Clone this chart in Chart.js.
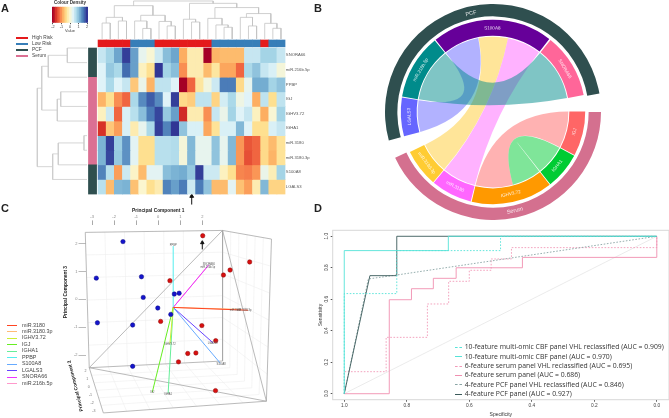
<!DOCTYPE html>
<html>
<head>
<meta charset="utf-8">
<script src="https://cdn.jsdelivr.net/npm/chart.js@4"></script>
<style>
body { margin: 0; background: #fff; font-family: "Liberation Sans", sans-serif; }
canvas { position: absolute; }
.t { position: absolute; white-space: nowrap; color: #333; }
.let { font-weight: bold; font-size: 11px; color: #222; }
.sw { position: absolute; }
</style>
</head>
<body>
<div style="position:relative;width:669px;height:418px;overflow:hidden" id="page">
<canvas id="heat" width="340" height="205" style="left:0;top:0;width:340px;height:205px"></canvas>
<canvas id="cbar" width="56" height="33" style="left:42px;top:0;width:56px;height:33px"></canvas>
<canvas id="chord" width="216" height="216" style="left:385px;top:3.6px;width:216px;height:216px"></canvas>
<canvas id="pca" width="275" height="218" style="left:0;top:200px;width:275px;height:218px"></canvas>
<canvas id="roc" width="351" height="193" style="left:318px;top:225px;width:351px;height:193px"></canvas>
</div>
<script>
// panel A data
var genes = ['SNORA66', 'miR.216b.5p', 'PPBP', 'IGJ', 'IGHV3.72', 'IGHA1', 'miR.3180', 'miR.3180.3p', 'S100A8', 'LGALS3'];
var snora66 = [.6, .85, 1.25, 1.95, 1.3, .3, .05, .55, 1.05, 1.25, -.8, -.2, -.2, -2, -.75, -.7, -.7, -.7, .6, .6, .85, .85, .6];
var mir216 = [.4, .95, .8, 1.65, 1.3, -.1, -.4, 2, .85, 1.05, -1, -.2, -.2, -.7, -.3, -.85, -.85, -1.25, .8, 1, .6, .45, .1];
var ppbp = [.4, .8, .4, .6, -.6, .25, -.75, .65, .65, .4, -2, -1.25, -.3, .15, .55, 1.55, 1.55, -.45, .3, 1.2, 1.2, .85, 1];
var igj = [-.75, -.4, -1, -1.25, .8, 1.45, 1.75, 1.45, .4, 1.95, -.45, -.55, .65, .65, -.5, .5, .8, .2, .4, -.8, .65, -.4, .65];
var ighv = [-.1, .55, -1.25, .45, .7, 1.05, 1.55, 1.9, .95, 1.3, -1.65, -.2, -.2, -1, .6, .25, .85, .4, .6, -.1, -.8, .05, .85];
var igha1 = [-1.6, -.6, -.9, .45, -.2, .3, .8, 1.95, 1.5, 2, 1, .45, .45, -.85, -.35, .45, .45, 1.1, .4, -.4, -.4, .45, .6];
var mir3180 = [1.15, 1.95, .9, 1.4, .35, -.4, -.4, .7, .7, .75, .1, 1.1, .3, .3, 1, .3, 1.1, -.95, -1.35, -1.25, -.45, -.7, -.35];
var mir3180p = [1.15, 1.9, .95, 1.4, .35, -.4, -.4, .7, .7, .75, .1, 1.1, .3, .3, 1, .3, 1.1, -.95, -1.4, -1.25, -.45, -.75, -.35];
var s100a8 = [1.5, .7, -.9, .55, -.05, -.7, .35, .35, 1.05, 1.15, 1.2, .95, 1.95, .55, .55, -.1, -.4, -1.05, -1.1, -.95, .25, -.15, .85];
var lgals3 = [.7, -.7, 1.1, 1.15, -.65, 0, -.4, -.2, 1.5, 1.3, 1.55, .55, 1.55, 1, -.7, -.7, .35, -.65, -.9, -.2, 1.1, -.5, -.5];
var heatRows = [snora66, mir216, ppbp, igj, ighv, igha1, mir3180, mir3180p, s100a8, lgals3];
var riskGroups = ['H', 'H', 'H', 'H', 'L', 'L', 'L', 'H', 'H', 'H', 'H', 'H', 'H', 'H', 'L', 'L', 'L', 'L', 'L', 'L', 'H', 'L', 'L'];
var sourceStart = [0, 2, 8];
var sourceEnd = [2, 8, 10];
var sourceName = ['PCF', 'Serum', 'PCF'];
// linkage tables: left, right, height (ids past the leaf count are earlier merges)
var colLinks = [[0, 1, -1.71], [2, 3, -1.85], [23, 24, -2.1], [5, 6, -1.34], [4, 26, -1.85], [8, 9, -1.51], [7, 28, -1.82], [27, 29, -2.24], [25, 30, -2.9], [11, 12, -1.78], [10, 32, -1.97], [15, 16, -1.42], [14, 34, -1.58], [13, 35, -2.03], [18, 19, -1.51], [17, 37, -2.1], [21, 22, -1.35], [20, 39, -1.69], [38, 40, -2.36], [36, 41, -2.77], [33, 42, -3.06], [31, 43, -3.22]];
var rowLinks = [[0, 1, -4.28], [10, 2, -6.62], [3, 4, -5.09], [12, 5, -5.51], [11, 13, -7.43], [6, 7, -2.23], [15, 8, -5.39], [16, 9, -6.08], [14, 17, -7.97]];
var colourSteps = [-2, -1.8, -1.6, -1.4, -1.2, -1, -.8, -.6, -.4, -.2, 0, .2, .4, .6, .8, 1, 1.2, 1.4, 1.6, 1.8, 2];
var colourTicks = [-2, -1, 0, 1, 2];

// panel B data, in degrees round the circle from the left end of PCF
var groupNames = ['PCF', '', 'Serum', ''];
var groupSizes = [185.5, 9.8, 155, 9.7];
var sectorNames = ['LGALS3', '', 'miR.216b.5p', '', 'S100A8', '', 'SNORA66', '', 'IGJ', '', 'IGHA1', '', 'IGHV3.72', '', 'miR.3180', '', 'miR.3180.3p', ''];
var sectorSizes = [24.4, .6, 41.2, .7, 76.2, 1, 40.8, 10.3, 28.2, .5, 23.3, .5, 51.4, .6, 26, .5, 23.9, 10.4];
var sectorColours = ['#6666ff', 'transparent', '#008b8b', 'transparent', '#660099', 'transparent', '#ff6699', 'transparent', '#ff6666', 'transparent', '#00cc33', 'transparent', '#ff9900', 'transparent', '#ff66ff', 'transparent', '#ffcc33', 'transparent'];
// from sector, to sector, share of the to sector
var linkFrom = ['miR.3180.3p', 'LGALS3', 'miR.3180', 'miR.216b.5p', 'IGJ', 'IGHA1'];
var linkTo = ['S100A8', 'S100A8', 'S100A8', 'SNORA66', 'IGHV3.72', 'IGHV3.72'];
var linkToStart = [.361, 0, .657, 0, .44, 0];
var linkToEnd = [.657, .357, 1, 1, 1, .44];

// panel C data
var pc1Ticks = [-3, -2, -1, 0, 1, 2];
var pc3Ticks = [-2, -1, 0, 1, 2];
var pc2Ticks = ['2', '1', '0', '-1', '-2', '-3'];
var blueX = [-1.6, -2.81, -.76, -.68, -.02, .73, .95, .57, -2.76, -1.16, -1.16];
var blueY = [2.07, .76, .81, .07, -.31, .19, .22, -.54, -.84, -.92, -2.4];
var redX = [2.02, 4.15, 3.26, 2.96, .53, 1.98, .11, 2.61, 1.71, 1.34, .92, 2.6];
var redY = [2.28, 1.34, 1.05, .87, .67, -.94, -.79, -1.48, -1.92, -1.94, -2.24, -3.27];
var vectorNames = ['miR.3180', 'miR.3180.3p', 'IGHV3.72', 'IGJ', 'IGHA1', 'PPBP', 'S100A8', 'LGALS3', 'SNORA66', 'miR.216b.5p'];
var vectorX = [4.08, 3.78, .53, -.27, .45, .68, 2.82, 2.49, 2.3, 2.22];
var vectorY = [-.39, -.36, -1.59, -3.33, -3.36, 1.91, -2.29, -1.56, 1.24, 1.16];
var vectorColours = ['#ff4422', '#ffbb77', '#ccee33', '#66ee22', '#66ee99', '#55eeee', '#66aaff', '#6644ff', '#ee33ff', '#ff99cc'];

// panel D data
var pcfSpec = [1, .918, .832, .832, .667, 0];
var pcfSens = [0, .75, .75, 1, 1, 1];
var pcfVhlSpec = [1, .923, .832, 0];
var pcfVhlSens = [0, .729, .754, 1];
var serumSpec = [1, .856, .856, .785, .785, .715, .715, .642, .642, .43, .43, 0, 0];
var serumSens = [0, 0, .597, .597, .667, .667, .733, .733, .8, .8, .866, .866, 1];
var serumVhlSpec = [1, 1, .866, .866, .734, .734, .666, .666, .6, .6, .53, .53, .465, .465, 0, 0];
var serumVhlSens = [0, .14, .14, .358, .358, .57, .57, .714, .714, .784, .784, .856, .856, .928, .928, 1];
var multiSpec = [1, 1, .667, .667, 0];
var multiSens = [0, .909, .909, 1, 1];
var multiVhlSpec = [1, 1, .832, .832, .5, .5, 0];
var multiVhlSens = [0, .636, .636, .909, .909, 1, 1];
var rocNames = ['10-feature multi-omic CBF panel VHL reclassified (AUC = 0.909)', '10-feature multi-omic CBF panel (AUC = 0.970)', '6-feature serum panel VHL reclassified (AUC = 0.695)', '6-feature serum panel (AUC = 0.686)', '4-feature PCF panel VHL reclassified (AUC = 0.846)', '4-feature PCF panel (AUC = 0.927)'];
var rocColours = ['#55e3d8', '#55e3d8', '#f29ab8', '#f08fb0', '#8aa5a5', '#3a5a5a'];
var rocDashed = [true, false, true, false, true, false];

var baseOpts = {responsive: false, animation: false, events: [], devicePixelRatio: 1};
var FONT = '"Liberation Sans", sans-serif';

function zip(xs, ys) {
    return xs.map(function(v, i) { return {x: v, y: ys[i]}; });
}

// RdYlBu, red for low
var palette = ['#a50026', '#d73027', '#f46d43', '#fdae61', '#fee090', '#fbf6cf', '#e0f3f8', '#abd9e9', '#74add1', '#4575b4', '#313695'];
function heatColour(z) {
    var p = (Math.max(-2, Math.min(2, z)) + 2) / 4 * 10;
    var i = Math.min(9, Math.floor(p)), f = p - i;
    var a = palette[i], b = palette[i + 1], out = [];
    for (var k = 0; k < 3; k++) {
        var ca = parseInt(a.substr(1 + k * 2, 2), 16), cb = parseInt(b.substr(1 + k * 2, 2), 16);
        out.push(Math.round(ca + (cb - ca) * f));
    }
    return 'rgb(' + out.join(',') + ')';
}

// text drawn through the chart's own scales
function textPlugin(items) {
    return {
        id: 'textMarks',
        afterDraw: function(chart) {
            var ctx = chart.ctx;
            items.forEach(function(t) {
                ctx.save();
                ctx.translate(chart.scales.x.getPixelForValue(t.x), chart.scales.y.getPixelForValue(t.y));
                ctx.rotate((t.rot || 0) * Math.PI / 180);
                ctx.font = (t.weight || 'normal') + ' ' + t.size + 'px ' + FONT;
                ctx.fillStyle = t.colour || '#444';
                ctx.textAlign = t.align || 'center';
                ctx.textBaseline = 'middle';
                ctx.fillText(t.text, 0, 0);
                ctx.restore();
            });
        }
    };
}

// walks a linkage table and returns the line pieces of the tree
function treePieces(links, n, leaf, flip) {
    var pos = [], height = [], pts = [];
    for (var i = 0; i < n; i++) { pos[i] = i; height[i] = leaf; }
    links.forEach(function(l, i) {
        var a = l[0], b = l[1], h = l[2];
        var path = [[pos[a], height[a]], [pos[a], h], [pos[b], h], [pos[b], height[b]]];
        path.forEach(function(p) {
            pts.push(flip ? {x: p[1], y: p[0]} : {x: p[0], y: p[1]});
        });
        pts.push({x: NaN, y: NaN});
        pos[n + i] = (pos[a] + pos[b]) / 2;
        height[n + i] = h;
    });
    return pts;
}

// ---- A: heat map
var heatSets = [];
heatRows.forEach(function(row, r) {
    heatSets.push({
        type: 'bar',
        data: row.map(function(z, c) { return {x: c, y: [r, r + 1]}; }),
        backgroundColor: row.map(heatColour),
        borderWidth: 0, grouped: false, barPercentage: 1, categoryPercentage: 1
    });
});
heatSets.push({
    type: 'bar',
    data: riskGroups.map(function(g, c) { return {x: c, y: [-.55, -.08]}; }),
    backgroundColor: riskGroups.map(function(g) { return g === 'H' ? '#e41a1c' : '#377eb8'; }),
    borderWidth: 0, grouped: false, barPercentage: 1, categoryPercentage: 1
});
heatSets.push({
    type: 'bar',
    data: sourceStart.map(function(s, i) { return {x: -1.18, y: [s, sourceEnd[i]]}; }),
    backgroundColor: sourceName.map(function(n) { return n === 'PCF' ? '#2f4f4f' : '#db7093'; }),
    borderWidth: 0, grouped: false, barPercentage: 1, categoryPercentage: 1
});
heatSets.push({type: 'scatter', showLine: true, pointRadius: 0, borderWidth: .8, borderColor: '#c4c4c4', data: treePieces(colLinks, 23, -.62, false)});
heatSets.push({type: 'scatter', showLine: true, pointRadius: 0, borderWidth: .8, borderColor: '#cccccc', data: treePieces(rowLinks, 10, -1.86, true)});
// the marked sample
heatSets.push({type: 'scatter', showLine: true, borderWidth: 1, borderColor: '#111', backgroundColor: '#111', pointStyle: 'triangle', pointRadius: [0, 2.2], data: [{x: 11.02, y: 10.72}, {x: 11.02, y: 10.15}]});

new Chart(document.getElementById('heat'), {
    data: {datasets: heatSets},
    plugins: [textPlugin(genes.map(function(g, r) {
        return {text: g, x: 22.6, y: r + .5, size: 4.2, align: 'left', colour: '#555'};
    }))],
    options: Object.assign({}, baseOpts, {
        layout: {padding: 0, autoPadding: false},
        plugins: {legend: {display: false}, tooltip: {enabled: false}},
        scales: {
            x: {type: 'linear', display: false, offset: false, min: -12.56, max: 29.26},
            y: {type: 'linear', display: false, reverse: true, min: -3.288, max: 10.75}
        }
    })
});

// ---- A: colour key
new Chart(document.getElementById('cbar'), {
    type: 'bar',
    data: {datasets: [{
        data: colourSteps.map(function(v) { return {x: v, y: 1}; }),
        backgroundColor: colourSteps.map(heatColour),
        borderWidth: 0, barPercentage: 1, categoryPercentage: 1
    }]},
    options: Object.assign({}, baseOpts, {
        layout: {padding: {left: 10, right: 10}, autoPadding: false},
        plugins: {
            legend: {display: false}, tooltip: {enabled: false},
            title: {display: true, text: 'Colour Density', color: '#333', font: {size: 4.5, weight: 'bold', family: FONT, lineHeight: 1.2}, padding: {top: 0, bottom: 1.3}}
        },
        scales: {
            x: {
                type: 'linear', offset: false, min: -2.1, max: 2.1,
                afterBuildTicks: function(s) { s.ticks = colourTicks.map(function(v) { return {value: v}; }); },
                afterFit: function(s) { s.height = 10.3; },
                grid: {offset: false, drawOnChartArea: false, tickLength: 1.5, tickColor: '#555'},
                border: {display: false},
                ticks: {font: {size: 3.8, family: FONT}, color: '#444', padding: .5, maxRotation: 0},
                title: {display: true, text: 'Value', font: {size: 4, family: FONT}, color: '#444', padding: 0}
            },
            y: {display: false, min: 0, max: 1}
        }
    })
});

// ---- B: chord diagram
var chordPlugin = {
    id: 'chords',
    afterDatasetsDraw: function(chart) {
        var ctx = chart.ctx;
        var arcs = chart.getDatasetMeta(2).data;
        var cx = arcs[0].x, cy = arcs[0].y, r = arcs[0].innerRadius - 1;
        function sector(name) { return arcs[sectorNames.indexOf(name)]; }
        linkFrom.forEach(function(name, i) {
            var a = sector(name), b = sector(linkTo[i]);
            var bSpan = b.endAngle - b.startAngle;
            var b0 = b.startAngle + bSpan * linkToStart[i], b1 = b.startAngle + bSpan * linkToEnd[i];
            ctx.beginPath();
            ctx.arc(cx, cy, r, a.startAngle, a.endAngle);
            ctx.quadraticCurveTo(cx, cy, cx + r * Math.cos(b0), cy + r * Math.sin(b0));
            ctx.arc(cx, cy, r, b0, b1);
            ctx.quadraticCurveTo(cx, cy, cx + r * Math.cos(a.startAngle), cy + r * Math.sin(a.startAngle));
            ctx.closePath();
            ctx.globalAlpha = .5;
            ctx.fillStyle = sectorColours[sectorNames.indexOf(name)];
            ctx.fill();
            ctx.globalAlpha = 1;
        });
        // sector and group names along the rings
        function ringText(arc, text, radius, size) {
            var mid = (arc.startAngle + arc.endAngle) / 2;
            var deg = (mid * 180 / Math.PI + 90 + 720) % 360;
            var rot = (deg > 90 && deg < 260) ? deg - 180 : deg;
            ctx.save();
            ctx.translate(cx + radius * Math.cos(mid), cy + radius * Math.sin(mid));
            ctx.rotate(rot * Math.PI / 180);
            ctx.font = size + 'px ' + FONT;
            ctx.fillStyle = 'rgba(255,255,255,.85)';
            ctx.textAlign = 'center';
            ctx.textBaseline = 'middle';
            ctx.fillText(text, 0, 0);
            ctx.restore();
        }
        arcs.forEach(function(arc, i) {
            if (sectorNames[i]) ringText(arc, sectorNames[i], 83.8, 4.6);
        });
        chart.getDatasetMeta(0).data.forEach(function(arc, i) {
            if (groupNames[i]) ringText(arc, groupNames[i], 101, 5.6);
        });
    }
};
new Chart(document.getElementById('chord'), {
    type: 'doughnut',
    plugins: [chordPlugin],
    data: {datasets: [
        {data: groupSizes, backgroundColor: ['#2f4f4f', 'transparent', '#d4708f', 'transparent'], borderWidth: 0, weight: 12.3},
        {data: groupSizes, backgroundColor: 'transparent', borderWidth: 0, weight: 3.4},
        {data: sectorSizes, backgroundColor: sectorColours, borderWidth: 0, weight: 15.8}
    ]},
    options: Object.assign({}, baseOpts, {
        rotation: 254.7,
        cutout: '70.7%',
        layout: {padding: 0, autoPadding: false},
        plugins: {legend: {display: false}, tooltip: {enabled: false}}
    })
});

// ---- C: projected biplot
var boxA = [-3.31, 2.4], boxB = [2.92, 2.47], boxC = [2.92, -2.21], boxD = [-3.13, -2.45], boxE = [5.14, 2.16], boxF = [4.91, -3.65], boxG = [-2.49, -4.07];
function edges(list) {
    var pts = [];
    list.forEach(function(e) {
        pts.push({x: e[0][0], y: e[0][1]}, {x: e[1][0], y: e[1][1]}, {x: NaN, y: NaN});
    });
    return pts;
}
// rungs between two edges of a wall of the box
function rungs(p0, p1, q0, q1, n) {
    var list = [];
    for (var i = 1; i < n; i++) {
        var f = i / n;
        list.push([[p0[0] + (p1[0] - p0[0]) * f, p0[1] + (p1[1] - p0[1]) * f], [q0[0] + (q1[0] - q0[0]) * f, q0[1] + (q1[1] - q0[1]) * f]]);
    }
    return list;
}
var wallLines = [].concat(
    rungs(boxA, boxB, boxD, boxC, 7), rungs(boxA, boxD, boxB, boxC, 6),
    rungs(boxB, boxE, boxC, boxF, 6), rungs(boxB, boxC, boxE, boxF, 6),
    rungs(boxD, boxG, boxC, boxF, 6), rungs(boxD, boxC, boxG, boxF, 7)
);
var pcaSets = [
    {label: 'low', data: zip(blueX, blueY), backgroundColor: '#1414cc', borderColor: '#0a0a80', borderWidth: .5, pointRadius: 2.2},
    {label: 'high', data: zip(redX, redY), backgroundColor: '#d80f0f', borderColor: '#8a0a0a', borderWidth: .5, pointRadius: 2.2},
    {label: 'arrow', showLine: true, borderWidth: 1, borderColor: '#111', backgroundColor: '#111', pointStyle: 'triangle', pointRadius: [0, 2], data: [{x: 2, y: 1.79}, {x: 2, y: 2.03}]}
];
vectorNames.forEach(function(n, i) {
    pcaSets.push({label: n, showLine: true, pointRadius: 0, borderWidth: 1, borderColor: vectorColours[i], data: [{x: .68, y: -.29}, {x: vectorX[i], y: vectorY[i]}]});
});
pcaSets.push({label: 'frame', showLine: true, pointRadius: 0, borderWidth: .8, borderColor: '#a8a8a8', data: edges([[boxA, boxB], [boxA, boxD], [boxB, boxC], [boxD, boxC], [boxB, boxD], [boxB, boxF], [boxD, boxF], [boxB, boxE], [boxE, boxF], [boxF, boxG], [boxD, boxG]])});
pcaSets.push({label: 'walls', showLine: true, pointRadius: 0, borderWidth: .6, borderColor: '#eeeeee', data: edges(wallLines)});

var pcaText = [
    {text: 'Principal Component 1', x: 0, y: 3.16, size: 4.8, weight: 'bold', colour: '#222'},
    {text: 'Principal Component 3', x: -4.2, y: .26, size: 4.8, weight: 'bold', colour: '#222', rot: -90},
    {text: 'Principal Component 2', x: -3.76, y: -3.1, size: 4.8, weight: 'bold', colour: '#222', rot: -104}
];
pc2Ticks.forEach(function(t, i) {
    pcaText.push({text: t, x: -3.3 + i * .076, y: -2.55 - i * .287, size: 3.6, colour: '#777'});
});
var vectorTextX = [3.5, 3.9, .53, -.27, .45, .68, 2.85, 2.47, 2.3, 2.25];
var vectorTextY = [-.39, -.39, -1.6, -3.34, -3.4, 1.94, -2.32, -1.56, 1.27, 1.16];
vectorNames.forEach(function(n, i) {
    pcaText.push({text: n, x: vectorTextX[i], y: vectorTextY[i], size: 2.6, colour: '#555'});
});

new Chart(document.getElementById('pca'), {
    type: 'scatter',
    data: {datasets: pcaSets},
    plugins: [textPlugin(pcaText)],
    options: Object.assign({}, baseOpts, {
        layout: {padding: 0, autoPadding: false},
        clip: false,
        plugins: {legend: {display: false}, tooltip: {enabled: false}},
        scales: {
            x: {
                type: 'linear', position: 'top', min: -3.3, max: 5.3,
                afterBuildTicks: function(s) { s.ticks = pc1Ticks.map(function(v) { return {value: v}; }); },
                afterFit: function(s) { s.height = 25.4; },
                grid: {drawOnChartArea: false, tickLength: 5, tickColor: '#aaa'},
                border: {display: false},
                ticks: {font: {size: 4, family: FONT}, color: '#888', padding: 1, maxRotation: 0, autoSkip: false}
            },
            y: {
                type: 'linear', min: -4.13, max: 2.65,
                afterBuildTicks: function(s) { s.ticks = pc3Ticks.map(function(v) { return {value: v}; }); },
                afterFit: function(s) { s.width = 85.5; },
                grid: {drawOnChartArea: false, tickLength: 7, tickColor: '#bbb'},
                border: {display: false},
                ticks: {font: {size: 4, family: FONT}, color: '#888', padding: 1, autoSkip: false}
            }
        }
    })
});

// ---- D: ROC curves
var framePlugin = {
    id: 'frame',
    beforeDatasetsDraw: function(chart) {
        var a = chart.chartArea, ctx = chart.ctx;
        ctx.save();
        ctx.strokeStyle = '#d8d8d8';
        ctx.lineWidth = 1;
        ctx.strokeRect(a.left, a.top, a.right - a.left, a.bottom - a.top);
        ctx.restore();
    }
};
var rocSeries = [
    zip(multiSpec, multiSens), zip(multiVhlSpec, multiVhlSens),
    zip(pcfSpec, pcfSens), zip(pcfVhlSpec, pcfVhlSens),
    zip(serumSpec, serumSens), zip(serumVhlSpec, serumVhlSens)
];
var rocOrder = [1, 0, 5, 4, 3, 2];
var rocSets = rocSeries.map(function(d, i) {
    var k = rocOrder[i];
    return {label: rocNames[k], data: d, showLine: true, pointRadius: 0, borderWidth: .9, borderColor: rocColours[k], borderDash: rocDashed[k] ? [1.6, 1.6] : []};
});
rocSets.push({label: 'chance', data: [{x: 1, y: 0}, {x: 0, y: 1}], showLine: true, pointRadius: 0, borderWidth: .8, borderColor: '#e6e6e6'});

new Chart(document.getElementById('roc'), {
    type: 'scatter',
    plugins: [framePlugin],
    data: {datasets: rocSets},
    options: Object.assign({}, baseOpts, {
        layout: {padding: {top: 5.3}, autoPadding: false},
        plugins: {legend: {display: false}, tooltip: {enabled: false}},
        scales: {
            x: {
                type: 'linear', reverse: true, min: -.039, max: 1.037,
                afterBuildTicks: function(s) { s.ticks = [0, .2, .4, .6, .8, 1].map(function(v) { return {value: v}; }); },
                afterFit: function(s) { s.height = 18.3; },
                grid: {display: true, drawOnChartArea: false, tickLength: 2, tickColor: '#555'},
                border: {display: false},
                ticks: {font: {size: 4.8, family: FONT}, color: '#444', padding: 1, maxRotation: 0, callback: function(v) { return v.toFixed(1); }},
                title: {display: true, text: 'Specificity', font: {size: 5, family: FONT}, color: '#333', padding: 0}
            },
            y: {
                type: 'linear', min: -.038, max: 1.038,
                afterBuildTicks: function(s) { s.ticks = [0, .2, .4, .6, .8, 1].map(function(v) { return {value: v}; }); },
                afterFit: function(s) { s.width = 14.7; },
                grid: {display: true, drawOnChartArea: false, tickLength: 2, tickColor: '#555'},
                border: {display: false},
                ticks: {font: {size: 4.8, family: FONT}, color: '#444', padding: 1, minRotation: 90, maxRotation: 90, crossAlign: 'center', callback: function(v) { return v.toFixed(1); }},
                title: {display: true, text: 'Sensitivity', font: {size: 5, family: FONT}, color: '#333', padding: 0}
            }
        }
    })
});

// ---- page furniture: panel letters and legends as plain text
var page = document.getElementById('page');
function addText(txt, left, top, size, cls, colour, family) {
    var d = document.createElement('div');
    d.className = cls || 't';
    d.style.position = 'absolute';
    d.style.left = left + 'px';
    d.style.top = top + 'px';
    d.style.lineHeight = '1';
    if (size) d.style.fontSize = size + 'px';
    if (colour) d.style.color = colour;
    if (family) d.style.fontFamily = family;
    d.style.transform = 'translateY(-50%)';
    d.textContent = txt;
    page.appendChild(d);
    return d;
}
function addSwatch(left, top, w, h, colour, dashed) {
    var d = document.createElement('div');
    d.className = 'sw';
    d.style.left = left + 'px';
    d.style.top = top + 'px';
    d.style.width = w + 'px';
    if (dashed) {
        d.style.borderTop = h + 'px dashed ' + colour;
    } else {
        d.style.height = h + 'px';
        d.style.background = colour;
    }
    page.appendChild(d);
}
addText('A', 1, 8, 0, 'let');
addText('B', 314, 8, 0, 'let');
addText('C', 1, 208, 0, 'let');
addText('D', 314, 208, 0, 'let');

var keyNames = ['High Risk', 'Low Risk', 'PCF', 'Serum'];
var keyColours = ['#e41a1c', '#377eb8', '#2f4f4f', '#db7093'];
keyNames.forEach(function(n, i) {
    addSwatch(16, 36.6 + i * 6, 12, 2.8, keyColours[i]);
    addText(n, 32, 38 + i * 6, 4.8, 't', '#444');
});
vectorNames.forEach(function(n, i) {
    addSwatch(7, 325 + i * 6.45, 10, 1, vectorColours[i]);
    addText(n, 22, 325.5 + i * 6.45, 5.4, 't', '#444');
});
rocNames.forEach(function(n, i) {
    addSwatch(454.7, 347 + i * 9.35, 7.6, 1, rocColours[i], rocDashed[i]);
    addText(n, 464.7, 347.3 + i * 9.35, 6.85, 't', '#333', '"Open Sans", sans-serif');
});
</script>
</body>
</html>
